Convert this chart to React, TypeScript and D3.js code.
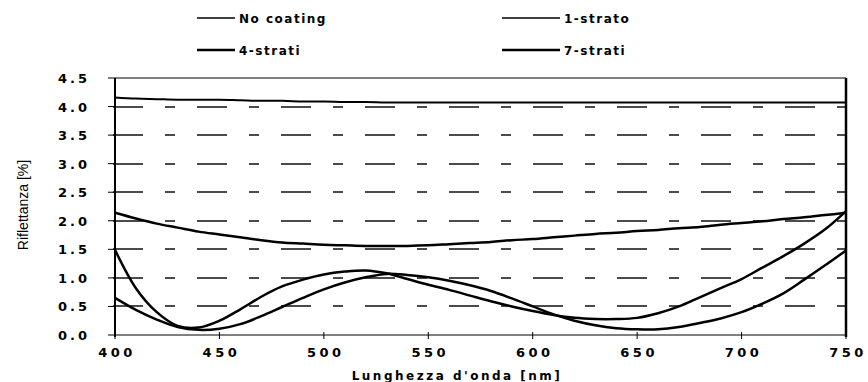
import * as d3 from 'd3';

const width = 868;
const height = 382;

// wavelength samples (nm), shared by all series
const wavelengths = [
  400, 410, 420, 430, 440, 450, 460, 470, 480, 490, 500, 510, 520, 530, 540, 550, 560, 570,
  580, 590, 600, 610, 620, 630, 640, 650, 660, 670, 680, 690, 700, 710, 720, 730, 740, 750,
];

const noCoating = [
  4.16, 4.14, 4.13, 4.12, 4.12, 4.12, 4.11, 4.1, 4.1, 4.09, 4.09, 4.08, 4.08, 4.07, 4.07, 4.07, 4.07, 4.07,
  4.07, 4.07, 4.07, 4.07, 4.07, 4.07, 4.07, 4.07, 4.07, 4.07, 4.07, 4.07, 4.07, 4.07, 4.07, 4.07, 4.07, 4.07,
];

const unoStrato = [
  2.14, 2.04, 1.95, 1.88, 1.81, 1.76, 1.71, 1.66, 1.62, 1.6, 1.58, 1.57, 1.56, 1.56, 1.56, 1.57, 1.59, 1.61,
  1.63, 1.66, 1.68, 1.71, 1.74, 1.77, 1.79, 1.82, 1.84, 1.87, 1.89, 1.93, 1.96, 1.99, 2.03, 2.06, 2.1, 2.14,
];

const quattroStrati = [
  0.65, 0.44, 0.27, 0.14, 0.09, 0.11, 0.19, 0.33, 0.49, 0.65, 0.8, 0.92, 1.01, 1.07, 1.05, 1.01, 0.95, 0.87,
  0.77, 0.64, 0.5, 0.36, 0.25, 0.17, 0.12, 0.1, 0.1, 0.14, 0.21, 0.29, 0.4, 0.55, 0.73, 0.97, 1.22, 1.48,
];

const setteStrati = [
  1.49, 0.82, 0.4, 0.16, 0.13, 0.25, 0.45, 0.67, 0.85, 0.97, 1.06, 1.11, 1.13, 1.08, 0.98, 0.88, 0.79, 0.69,
  0.59, 0.5, 0.42, 0.35, 0.3, 0.28, 0.28, 0.3, 0.38, 0.5, 0.66, 0.82, 0.98, 1.18, 1.38, 1.6, 1.85, 2.17,
];

const xTicks = [400, 450, 500, 550, 600, 650, 700, 750];
const yTicks = [0, 0.5, 1, 1.5, 2, 2.5, 3, 3.5, 4, 4.5];
const gridValues = [0.5, 1, 1.5, 2, 2.5, 3, 3.5, 4];

const legendNames = ['No coating', '1-strato', '4-strati', '7-strati'];

const series = [
  { name: legendNames[0], values: noCoating, w: 2 },
  { name: legendNames[1], values: unoStrato, w: 2.5 },
  { name: legendNames[2], values: quattroStrati, w: 2.5 },
  { name: legendNames[3], values: setteStrati, w: 2.5 },
];

const tickFont = "'DejaVu Sans', 'Liberation Sans', sans-serif";

// long dash, gap, short dash, gap (px)
const dashPattern = [30, 22, 10, 22];

function dashedPath(x0: number, x1: number, yy: number) {
  const p = d3.path();
  let cx = x0;
  let k = 0;
  while (cx < x1) {
    const len = dashPattern[k % 4];
    const end = Math.min(cx + len, x1);
    if (k % 2 === 0) {
      p.moveTo(cx, yy);
      p.lineTo(end, yy);
    }
    cx += len;
    k++;
  }
  return p.toString();
}

export default function App() {
  const x = d3.scaleLinear().domain([400, 750]).range([115, 846]);
  const y = d3.scaleLinear().domain([0, 4.5]).range([335, 78]);

  const line = d3
    .line<number>()
    .x((_, i) => x(wavelengths[i]))
    .y((d) => y(d))
    .curve(d3.curveCatmullRom.alpha(0.5));

  // legend: two columns, two rows
  const legendPos = [
    { lx: 197, ly: 18, len: 38 },
    { lx: 502, ly: 18, len: 58 },
    { lx: 197, ly: 50, len: 38 },
    { lx: 502, ly: 50, len: 58 },
  ];

  return (
    <svg
      width={width}
      height={height}
      style={{ position: 'absolute', left: 0, top: 0, background: '#fff' }}
    >
      {/* legend */}
      {series.map((s, i) => (
        <g key={s.name}>
          <line
            x1={legendPos[i].lx}
            x2={legendPos[i].lx + legendPos[i].len}
            y1={legendPos[i].ly}
            y2={legendPos[i].ly}
            stroke="#000"
            strokeWidth={i < 2 ? 1.5 : 2.5}
          />
          <text
            x={legendPos[i].lx + legendPos[i].len + 4}
            y={legendPos[i].ly + 5}
            fontFamily={tickFont}
            fontWeight="bold"
            fontSize={12}
            letterSpacing={1.5}
            fill="#000"
          >
            {s.name}
          </text>
        </g>
      ))}

      {/* dashed grid */}
      {gridValues.map((v) => (
        <path
          key={'g' + v}
          d={dashedPath(113, 846, Math.round(y(v)))}
          fill="none"
          stroke="#111"
          strokeWidth={1.5}
        />
      ))}

      {/* frame */}
      <line x1={115} x2={846} y1={y(4.5)} y2={y(4.5)} stroke="#000" strokeWidth={1} />
      <line x1={115} x2={846} y1={y(0)} y2={y(0)} stroke="#000" strokeWidth={1} />
      <line x1={115} x2={115} y1={y(4.5)} y2={y(0) + 2} stroke="#000" strokeWidth={2} />
      <line x1={846} x2={846} y1={y(4.5)} y2={y(0) + 2} stroke="#000" strokeWidth={2.5} />

      {/* y ticks and labels */}
      {yTicks.map((v) => (
        <g key={v}>
          <line x1={108} x2={115} y1={y(v)} y2={y(v)} stroke="#000" strokeWidth={1} />
          <text
            x={90}
            y={y(v) + 5}
            textAnchor="end"
            fontFamily={tickFont}
            fontWeight="bold"
            fontSize={13}
            letterSpacing={3}
            fill="#000"
          >
            {v.toFixed(1)}
          </text>
        </g>
      ))}

      {/* x ticks and labels */}
      {xTicks.map((v) => (
        <g key={v}>
          <line x1={x(v)} x2={x(v)} y1={y(0) - 3} y2={y(0) + 4} stroke="#000" strokeWidth={1} />
          <text
            x={x(v) + 2}
            y={y(0) + 22}
            textAnchor="middle"
            fontFamily={tickFont}
            fontWeight="bold"
            fontSize={13}
            letterSpacing={3.5}
            fill="#000"
          >
            {v}
          </text>
        </g>
      ))}

      {/* axis titles */}
      <text
        x={457}
        y={380}
        textAnchor="middle"
        fontFamily={tickFont}
        fontWeight="bold"
        fontSize={12}
        letterSpacing={2.5}
        fill="#000"
      >
        Lunghezza d'onda [nm]
      </text>
      <text
        transform={`translate(28, ${205}) rotate(-90)`}
        textAnchor="middle"
        fontFamily="'Liberation Sans Narrow', 'Liberation Sans', sans-serif"
        fontSize={14}
        fill="#000"
      >
        Riflettanza [%]
      </text>

      {/* series */}
      {series.map((s) => (
        <path
          key={s.name}
          d={line(s.values) ?? ''}
          fill="none"
          stroke="#000"
          strokeWidth={s.w}
        />
      ))}
    </svg>
  );
}
